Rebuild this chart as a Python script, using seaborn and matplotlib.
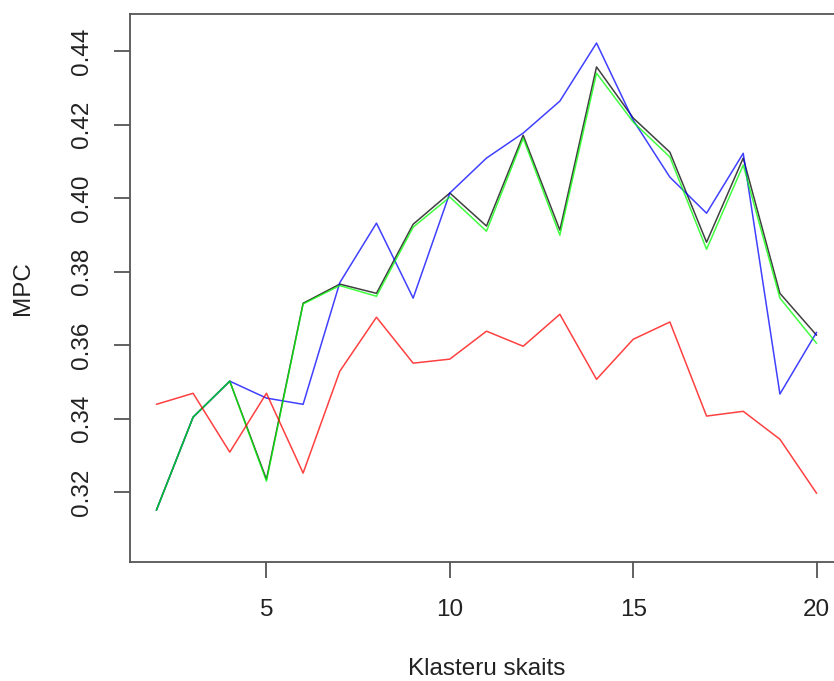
import matplotlib
matplotlib.use("Agg")
import matplotlib.pyplot as plt
import seaborn as sns
import pandas as pd

clusters = list(range(2, 21))
black_vals = [0.3151, 0.3404, 0.3502, 0.3235, 0.3714, 0.3766, 0.3741, 0.3929, 0.4014, 0.3924,
              0.4171, 0.3913, 0.4357, 0.4218, 0.4125, 0.3880, 0.4109, 0.3741, 0.3627]
green_vals = [0.3151, 0.3404, 0.3502, 0.3230, 0.3712, 0.3762, 0.3733, 0.3921, 0.4003, 0.3910,
              0.4163, 0.3899, 0.4340, 0.4207, 0.4112, 0.3861, 0.4090, 0.3728, 0.3605]
blue_vals = [0.3151, 0.3404, 0.3502, 0.3456, 0.3439, 0.3770, 0.3932, 0.3728, 0.4014, 0.4109,
             0.4177, 0.4264, 0.4422, 0.4212, 0.4057, 0.3959, 0.4122, 0.3467, 0.3635]
red_vals = [0.3439, 0.3469, 0.3309, 0.3469, 0.3252, 0.3529, 0.3676, 0.3551, 0.3562, 0.3638,
            0.3597, 0.3684, 0.3507, 0.3616, 0.3663, 0.3407, 0.3420, 0.3344, 0.3197]
series_names = ["black", "blue", "green", "red"]
series_colors = {"black": "#000000", "blue": "#0000FF", "green": "#00FF00", "red": "#FF0000"}
x_ticks = [5, 10, 15, 20]
y_ticks = [0.32, 0.34, 0.36, 0.38, 0.40, 0.42, 0.44]

frames = []
for name, vals in zip(series_names, [black_vals, blue_vals, green_vals, red_vals]):
    frames.append(pd.DataFrame({"k": clusters, "MPC": vals, "series": name}))
df = pd.concat(frames, ignore_index=True)

sns.set_style("white")
plt.rcParams["font.family"] = ["Liberation Sans", "DejaVu Sans"]

W, H = 834, 681
fig = plt.figure(figsize=(W / 100, H / 100), dpi=100)
left, right, top, bottom = 130, 843, 14, 562
ax = fig.add_axes([left / W, (H - bottom) / H, (right - left) / W, (bottom - top) / H])

for name in series_names:
    sub = df[df["series"] == name]
    sns.lineplot(data=sub, x="k", y="MPC", ax=ax, color=series_colors[name],
                 linewidth=1.1, alpha=0.75, legend=False)

ax.set_xlim(1.28, 20.72)
ax.set_ylim(0.3010, 0.4501)
ax.set_xticks(x_ticks)
ax.set_xticklabels([str(t) for t in x_ticks])
ax.set_yticks(y_ticks)
ax.set_yticklabels([f"{t:.2f}" for t in y_ticks], rotation=90, va="center")

for s in ax.spines.values():
    s.set_color("#555555")
    s.set_linewidth(1.3)
ax.tick_params(axis="both", direction="out", length=11.5, width=1.3, color="#555555",
               labelsize=17.5, labelcolor="#222222", pad=15, left=True, bottom=True)

ax.set_xlabel("Klasteru skaits", fontsize=17.5, color="#222222", labelpad=27)
ax.set_ylabel("MPC", fontsize=17.5, color="#222222", labelpad=27)

fig.savefig("out.png", dpi=100)
